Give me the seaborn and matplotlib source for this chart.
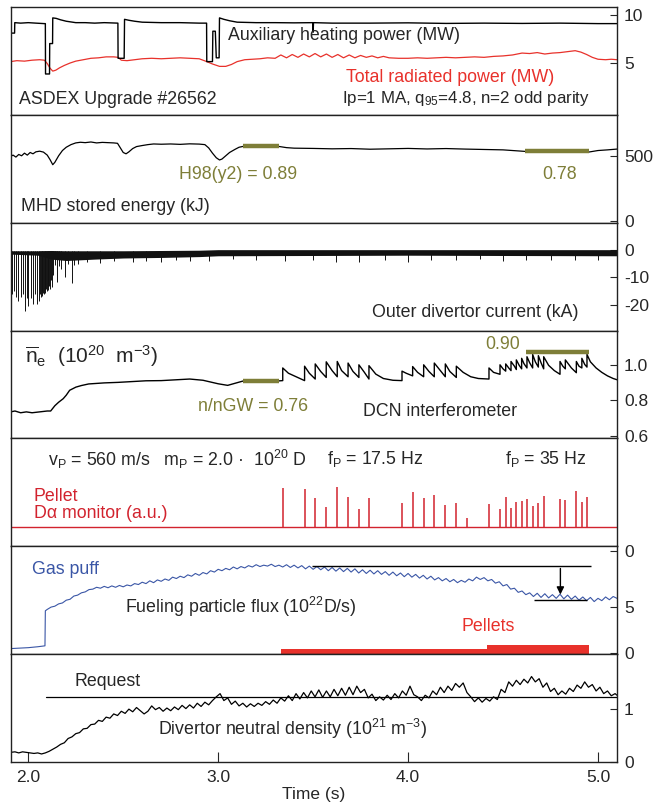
import matplotlib
matplotlib.use("Agg")
import matplotlib.pyplot as plt
import seaborn as sns
import numpy as np

# ---------------- data ----------------
# Panel 1: auxiliary heating power (MW)
heat_t = [1.907, 1.928, 1.929, 1.96, 2.00, 2.04, 2.084, 2.090, 2.091, 2.112, 2.113, 2.128, 2.129, 2.147,
          2.17, 2.20, 2.25, 2.30, 2.35, 2.40, 2.472, 2.473, 2.505, 2.507, 2.53, 2.56, 2.60, 2.70, 2.80,
          2.90, 2.939, 2.94, 2.97, 2.972, 2.985, 2.99, 3.005, 3.007, 3.03, 3.06, 3.10, 3.20, 3.30, 3.40,
          3.498, 3.50, 3.502, 3.60, 3.80, 4.00, 4.20, 4.40, 4.60, 4.80, 5.00, 5.10]
heat_v = [8.1, 8.1, 9.2, 9.15, 9.2, 9.15, 9.1, 9.1, 3.8, 3.8, 7.0, 7.0, 9.7, 9.65,
          9.5, 9.35, 9.2, 9.2, 9.15, 9.2, 9.15, 5.45, 5.45, 9.55, 9.45, 9.35, 9.25, 9.2, 9.2,
          9.15, 9.15, 5.1, 5.1, 8.3, 8.3, 5.5, 5.5, 9.7, 9.55, 9.4, 9.25, 9.2, 9.2, 9.18,
          9.2, 8.2, 9.2, 9.15, 9.15, 9.18, 9.12, 9.15, 9.12, 9.15, 9.1, 9.1]
# total radiated power (MW)
rad_t = [1.907, 1.94, 1.98, 2.02, 2.06, 2.085, 2.10, 2.115, 2.129, 2.145, 2.165, 2.19, 2.22, 2.25, 2.29,
         2.33, 2.37, 2.41, 2.45, 2.473, 2.49, 2.52, 2.56, 2.60, 2.65, 2.70, 2.75, 2.80, 2.85, 2.90, 2.94,
         2.97, 3.007, 3.04, 3.07, 3.10, 3.14, 3.18, 3.22, 3.26, 3.30, 3.33, 3.36, 3.39, 3.42, 3.45, 3.48,
         3.51, 3.54, 3.57, 3.60, 3.63, 3.66, 3.69, 3.72, 3.75, 3.78, 3.81, 3.84, 3.87, 3.90, 3.95, 4.00,
         4.05, 4.10, 4.15, 4.20, 4.25, 4.30, 4.35, 4.40, 4.45, 4.50, 4.55, 4.60, 4.64, 4.68, 4.72, 4.76,
         4.80, 4.84, 4.88, 4.91, 4.94, 4.97, 5.00, 5.04, 5.07, 5.10]
rad_v = [5.1, 5.2, 5.15, 5.25, 5.3, 5.25, 4.9, 4.4, 4.1, 4.2, 4.45, 4.7, 4.95, 5.15, 5.3,
         5.45, 5.5, 5.6, 5.6, 5.55, 5.25, 5.2, 5.3, 5.4, 5.45, 5.4, 5.45, 5.5, 5.45, 5.4, 5.1,
         4.85, 4.6, 4.6, 4.8, 5.1, 5.3, 5.35, 5.4, 5.5, 5.45, 5.8, 5.5, 5.85, 5.55, 5.9, 5.6,
         5.95, 5.6, 5.9, 5.55, 5.85, 5.5, 5.8, 5.5, 5.75, 5.55, 5.7, 5.5, 5.65, 5.5, 5.45, 5.45,
         5.5, 5.45, 5.5, 5.55, 5.5, 5.55, 5.6, 5.55, 5.65, 5.7, 5.8, 6.0, 5.95, 6.05, 5.9, 6.0,
         6.05, 6.15, 6.25, 6.1, 5.85, 5.55, 5.35, 5.3, 5.35, 5.3]

# Panel 2: MHD stored energy (kJ)
wmhd_t = [1.907, 1.92, 1.935, 1.95, 1.965, 1.98, 1.995, 2.01, 2.025, 2.04, 2.06, 2.08, 2.10, 2.115, 2.129,
          2.14, 2.16, 2.18, 2.20, 2.225, 2.25, 2.275, 2.30, 2.33, 2.36, 2.39, 2.42, 2.45, 2.47, 2.485,
          2.50, 2.515, 2.53, 2.55, 2.57, 2.60, 2.63, 2.66, 2.70, 2.75, 2.80, 2.85, 2.90, 2.93, 2.95,
          2.97, 2.99, 3.007, 3.02, 3.04, 3.06, 3.09, 3.11, 3.13, 3.20, 3.26, 3.32, 3.36, 3.40, 3.50,
          3.60, 3.70, 3.80, 3.90, 4.00, 4.10, 4.20, 4.30, 4.40, 4.50, 4.55, 4.60, 4.62, 4.70, 4.80,
          4.90, 4.95, 5.00, 5.05, 5.10]
wmhd_v = [495, 505, 490, 510, 500, 520, 505, 525, 515, 530, 535, 528, 505, 470, 432,
          450, 500, 540, 565, 585, 598, 603, 600, 605, 598, 602, 600, 598, 595, 560,
          525, 515, 530, 555, 570, 578, 585, 590, 588, 590, 587, 591, 589, 585, 560,
          520, 485, 468, 475, 500, 525, 550, 565, 571, 572, 570, 571, 562, 558, 556,
          553, 555, 550, 553, 556, 552, 555, 551, 548, 545, 540, 535, 533, 532, 531,
          530, 528, 540, 545, 551]
h98_t = [[3.129, 3.318], [4.618, 4.951]]
h98_v = [571, 533]

# Panel 3: outer divertor current (kA) - noise band envelope and spikes
band_t = [1.907, 2.05, 2.12, 2.20, 2.35, 2.50, 2.70, 2.90, 3.00, 3.50, 4.00, 4.50, 5.10]
band_hi = [-0.4, -0.4, -0.3, -0.4, -0.4, -0.4, -0.3, -0.2, 0.0, 0.0, 0.0, 0.0, 0.0]
band_lo = [-1.6, -2.0, -3.4, -3.9, -3.4, -3.0, -2.8, -2.5, -2.2, -2.1, -2.0, -2.1, -2.2]
elm_t = [1.912, 1.925, 1.935, 1.947, 1.960, 1.970, 1.983, 1.991, 2.000, 2.012, 2.023, 2.035, 2.047,
         2.058, 2.062, 2.066, 2.070, 2.074, 2.078, 2.082, 2.086, 2.090, 2.094, 2.098, 2.102, 2.106,
         2.110, 2.114, 2.118, 2.123, 2.130, 2.141, 2.149, 2.160, 2.175, 2.193, 2.210, 2.228, 2.240,
         2.26, 2.31, 2.38, 2.45, 2.55, 2.62, 2.70, 2.78, 2.85, 2.95, 3.08, 3.20, 3.35, 3.50, 3.62,
         3.74, 3.88, 4.00, 4.12, 4.25, 4.38, 4.50, 4.62, 4.75, 4.88, 5.00]
elm_v = [-16, -15, -17, -18.6, -17, -16, -21.9, -17.5, -20.1, -17.5, -19.5, -16, -19.5,
         -18.6, -16, -17, -15, -16.5, -15.5, -16, -14.5, -15.5, -14, -15, -13.5, -14.5,
         -13, -14, -11, -13.5, -9, -5.4, -11.5, -6, -7, -9.7, -5, -12.1, -5.5,
         -5, -4.5, -4.8, -4.2, -4.5, -4, -4.3, -3.8, -4, -4.2, -3.5, -3.8, -4, -3.6, -4.5,
         -4.3, -3.7, -4.3, -3.6, -3.9, -3.5, -4, -3.6, -3.8, -3.7, -3.9]

# Panel 4: line-averaged density (1e20 m^-3)
dens_t = [1.907, 1.93, 1.96, 1.99, 2.02, 2.06, 2.10, 2.118, 2.14, 2.16, 2.184, 2.20, 2.218, 2.251, 2.28,
          2.318, 2.40, 2.473, 2.55, 2.62, 2.70, 2.78, 2.85, 2.92, 2.96, 3.00, 3.05, 3.09, 3.129, 3.20,
          3.30, 3.340,
          3.340, 3.37, 3.41, 3.455, 3.455, 3.48, 3.511, 3.511, 3.54, 3.569, 3.569, 3.60, 3.627, 3.627,
          3.65, 3.684, 3.684, 3.71, 3.741, 3.741, 3.77, 3.794, 3.794, 3.83, 3.87, 3.92, 3.968,
          3.968, 3.99, 4.024, 4.024, 4.05, 4.082, 4.082, 4.11, 4.138, 4.138, 4.17, 4.196, 4.196,
          4.22, 4.254, 4.254, 4.29, 4.33, 4.37, 4.426,
          4.426, 4.45, 4.484, 4.484, 4.50, 4.514, 4.514, 4.53, 4.542, 4.542, 4.56, 4.570, 4.570,
          4.585, 4.598, 4.598, 4.61, 4.626, 4.626, 4.64, 4.656, 4.656, 4.67, 4.686, 4.686, 4.70,
          4.714, 4.714, 4.74, 4.77, 4.800, 4.800, 4.815, 4.828, 4.828, 4.86, 4.886, 4.886, 4.90,
          4.915, 4.915, 4.93, 4.942, 4.942, 4.96, 4.99, 5.02, 5.05, 5.08, 5.10]
dens_v = [0.735, 0.74, 0.73, 0.735, 0.73, 0.735, 0.74, 0.74, 0.77, 0.79, 0.81, 0.83, 0.858, 0.876, 0.885,
          0.894, 0.90, 0.903, 0.908, 0.912, 0.913, 0.918, 0.922, 0.915, 0.905, 0.895, 0.886, 0.898, 0.91,
          0.912, 0.91, 0.913,
          0.985, 0.955, 0.935, 0.913, 0.995, 0.955, 0.922, 1.008, 0.965, 0.931, 1.02, 0.97, 0.935, 1.022,
          0.97, 0.935, 1.013, 0.965, 0.931, 1.003, 0.96, 0.922, 0.998, 0.95, 0.925, 0.915, 0.913,
          0.967, 0.955, 0.94, 0.993, 0.96, 0.935, 1.003, 0.965, 0.935, 1.013, 0.97, 0.935, 1.008,
          0.965, 0.931, 0.995, 0.96, 0.935, 0.925, 0.922,
          0.985, 0.96, 0.949, 1.003, 0.98, 0.967, 1.008, 0.985, 0.97, 1.022, 0.995, 0.976, 1.031,
          1.0, 0.98, 1.04, 1.01, 0.985, 1.049, 1.015, 0.985, 1.062, 1.02, 0.99, 1.055, 1.015,
          0.98, 1.049, 1.0, 0.97, 0.949, 1.022, 0.995, 0.98, 1.031, 0.985, 0.958, 1.022, 0.995,
          0.985, 1.04, 1.005, 0.99, 1.062, 1.02, 0.985, 0.96, 0.94, 0.925, 0.918]
ngw_t = [[3.129, 3.318], [4.621, 4.955]]
ngw_v = [0.91, 1.076]

# Panel 5: pellet D-alpha spikes (a.u.)
pel_t = [3.340, 3.455, 3.511, 3.569, 3.627, 3.684, 3.741, 3.794, 3.968, 4.024, 4.082, 4.138, 4.196,
         4.254, 4.312, 4.426, 4.484, 4.514, 4.542, 4.570, 4.598, 4.626, 4.656, 4.686, 4.714, 4.800,
         4.828, 4.886, 4.915, 4.942]
pel_h = [0.393, 0.377, 0.287, 0.203, 0.397, 0.303, 0.177, 0.287, 0.237, 0.347, 0.287, 0.32, 0.217,
         0.237, 0.093, 0.227, 0.177, 0.303, 0.193, 0.25, 0.257, 0.283, 0.21, 0.237, 0.31, 0.283,
         0.267, 0.357, 0.247, 0.303]
base_t = [1.907, 5.10]
base_v = [0.0, 0.0]

# Panel 6: fueling particle flux (1e22 D/s)
gas_t = [1.907, 1.95, 2.00, 2.05, 2.088, 2.090,
         2.10, 2.12, 2.14, 2.16, 2.18, 2.20, 2.22, 2.24, 2.26, 2.28, 2.30, 2.32, 2.34, 2.36, 2.38,
         2.40, 2.42, 2.44, 2.46, 2.48, 2.50, 2.52, 2.54, 2.56, 2.58, 2.60, 2.62, 2.64, 2.66, 2.68,
         2.70, 2.72, 2.74, 2.76, 2.78, 2.80, 2.82, 2.84, 2.86, 2.88, 2.90, 2.92, 2.94, 2.96, 2.98,
         3.00, 3.02, 3.04, 3.06, 3.08, 3.10, 3.12, 3.14, 3.16, 3.18, 3.20, 3.22, 3.24, 3.26, 3.28,
         3.30, 3.32, 3.34, 3.36, 3.38, 3.40, 3.42, 3.44, 3.46, 3.48, 3.50, 3.52, 3.54, 3.56, 3.58,
         3.60, 3.62, 3.64, 3.66, 3.68, 3.70, 3.72, 3.74, 3.76, 3.78, 3.80, 3.82, 3.84, 3.86, 3.88,
         3.90, 3.92, 3.94, 3.96, 3.98, 4.00, 4.02, 4.04, 4.06, 4.08, 4.10, 4.12, 4.14, 4.16, 4.18,
         4.20, 4.22, 4.24, 4.26, 4.28, 4.30, 4.32, 4.34, 4.36, 4.38, 4.40, 4.42, 4.44, 4.46, 4.48,
         4.50, 4.52, 4.54, 4.56, 4.58, 4.60, 4.62, 4.64, 4.66, 4.68, 4.70, 4.72, 4.74, 4.76, 4.78,
         4.80, 4.82, 4.84, 4.86, 4.88, 4.90, 4.92, 4.94, 4.96, 4.98, 5.00, 5.02, 5.04, 5.06, 5.08, 5.10]
gas_v = [0.5, 0.55, 0.6, 0.7, 0.8, 4.6,
         4.75, 5.00, 5.10, 5.35, 5.45, 5.75, 5.85, 6.20, 6.30, 6.55, 6.65, 6.90, 6.95, 7.15, 7.05,
         7.25, 7.10, 7.30, 7.15, 7.35, 7.20, 7.40, 7.30, 7.55, 7.45, 7.70, 7.55, 7.85, 7.65, 7.95,
         7.80, 8.05, 7.90, 8.25, 8.10, 8.35, 8.20, 8.50, 8.35, 8.65, 8.45, 8.75, 8.60, 8.95, 8.80,
         9.10, 8.95, 9.20, 9.05, 9.35, 9.15, 9.40, 9.25, 9.50, 9.35, 9.60, 9.40, 9.55, 9.45, 9.65,
         9.40, 9.55, 9.35, 9.60, 9.30, 9.55, 9.25, 9.50, 9.15, 9.45, 9.10, 9.40, 9.05, 9.35, 8.95,
         9.30, 8.90, 9.25, 8.85, 9.20, 8.80, 9.15, 8.70, 9.05, 8.65, 9.00, 8.60, 8.95, 8.55, 8.85,
         8.45, 8.80, 8.40, 8.70, 8.30, 8.65, 8.25, 8.55, 8.15, 8.45, 8.05, 8.35, 7.95, 8.20, 7.85,
         8.10, 7.75, 8.00, 7.65, 7.90, 7.70, 8.05, 7.85, 8.25, 8.00, 8.20, 7.85, 8.00, 7.60, 7.75,
         7.30, 7.45, 6.95, 7.05, 6.60, 6.75, 6.35, 6.55, 6.15, 6.50, 6.05, 6.45, 6.00, 6.35, 5.95,
         6.40, 5.90, 6.30, 5.85, 6.20, 5.75, 6.10, 5.70, 6.05, 5.60, 5.95, 5.70, 6.10, 5.80, 6.15, 5.95]
ref_hi = [3.496, 4.962, 9.49]     # x0, x1, level
ref_lo = [4.662, 4.940, 5.76]
arrow_x = 4.802
pellet_bar_t = [3.329, 4.418]
pellet_bar_w = [1.089, 0.533]
pellet_bar_h = [0.53, 1.0]

# Panel 7: divertor neutral density (1e21 m^-3)
neut_t = [1.907, 1.93, 1.95, 1.97, 1.99, 2.01, 2.03, 2.05, 2.07, 2.09, 2.11, 2.13, 2.15, 2.17, 2.19,
          2.21, 2.23, 2.25, 2.27, 2.29, 2.31, 2.33, 2.35, 2.37, 2.39, 2.41, 2.43, 2.45, 2.47, 2.49,
          2.51, 2.53, 2.55, 2.57, 2.59, 2.61, 2.63, 2.65, 2.67, 2.69, 2.71, 2.73, 2.75, 2.77, 2.79,
          2.81, 2.83, 2.85, 2.87, 2.89, 2.91, 2.93, 2.95, 2.97, 2.99, 3.01, 3.03, 3.05, 3.07, 3.09,
          3.11, 3.13, 3.15, 3.17, 3.19, 3.21, 3.23, 3.25, 3.27, 3.29, 3.31, 3.33, 3.35, 3.37, 3.39,
          3.41, 3.43, 3.45, 3.47, 3.49, 3.51, 3.53, 3.55, 3.57, 3.59, 3.61, 3.63, 3.65, 3.67, 3.69,
          3.71, 3.73, 3.75, 3.77, 3.79, 3.81, 3.83, 3.85, 3.87, 3.89, 3.91, 3.93, 3.95, 3.97, 3.99,
          4.01, 4.03, 4.05, 4.07, 4.09, 4.11, 4.13, 4.15, 4.17, 4.19, 4.21, 4.23, 4.25, 4.27, 4.29,
          4.31, 4.33, 4.35, 4.37, 4.39, 4.41, 4.43, 4.45, 4.47, 4.49, 4.51, 4.53, 4.55, 4.57, 4.59,
          4.61, 4.63, 4.65, 4.67, 4.69, 4.71, 4.73, 4.75, 4.77, 4.79, 4.81, 4.83, 4.85, 4.87, 4.89,
          4.91, 4.93, 4.95, 4.97, 4.99, 5.01, 5.03, 5.05, 5.07, 5.09, 5.10]
neut_v = [0.18, 0.19, 0.17, 0.19, 0.18, 0.17, 0.16, 0.17, 0.15, 0.17, 0.20, 0.24, 0.28, 0.33, 0.36,
          0.44, 0.47, 0.53, 0.55, 0.62, 0.63, 0.70, 0.71, 0.78, 0.76, 0.84, 0.82, 0.90, 0.87, 0.95,
          0.91, 0.99, 0.94, 1.02, 0.96, 0.90, 0.95, 1.05, 0.98, 1.02, 0.95, 1.01, 0.96, 1.03, 0.98,
          1.06, 1.00, 1.07, 1.01, 1.10, 1.04, 1.12, 1.07, 1.15, 1.22, 1.28, 1.15, 1.20, 1.08, 1.14,
          1.05, 1.10, 1.03, 1.09, 1.04, 1.10, 1.06, 1.13, 1.08, 1.16, 1.10, 1.20, 1.14, 1.24, 1.15,
          1.28, 1.18, 1.30, 1.20, 1.33, 1.22, 1.35, 1.21, 1.33, 1.22, 1.36, 1.24, 1.38, 1.25, 1.40,
          1.26, 1.42, 1.30, 1.36, 1.20, 1.27, 1.15, 1.22, 1.16, 1.25, 1.17, 1.28, 1.20, 1.33, 1.25,
          1.42, 1.26, 1.22, 1.15, 1.25, 1.20, 1.33, 1.26, 1.40, 1.30, 1.42, 1.34, 1.47, 1.40, 1.48,
          1.30, 1.22, 1.13, 1.20, 1.12, 1.19, 1.14, 1.22, 1.17, 1.36, 1.30, 1.50, 1.42, 1.53, 1.45,
          1.55, 1.48, 1.60, 1.50, 1.56, 1.40, 1.48, 1.32, 1.38, 1.26, 1.33, 1.27, 1.38, 1.32, 1.44,
          1.38, 1.50, 1.40, 1.45, 1.33, 1.40, 1.28, 1.33, 1.24, 1.28, 1.25]
request_t = [2.091, 5.10]
request_v = [1.21, 1.21]

xticks = [2.0, 3.0, 4.0, 5.0]
xtick_labels = ["2.0", "3.0", "4.0", "5.0"]

# ---------------- styling ----------------
sns.set_style("ticks")
plt.rcParams["font.family"] = ["Liberation Sans", "DejaVu Sans"]
plt.rcParams["mathtext.fontset"] = "custom"
plt.rcParams["mathtext.rm"] = "Liberation Sans"
plt.rcParams["mathtext.it"] = "Liberation Sans"
plt.rcParams["mathtext.bf"] = "Liberation Sans:bold"
plt.rcParams["axes.unicode_minus"] = False

RED = "#e8312b"
DRED = "#d2232e"
BLUE = "#3a56a6"
OLIVE = "#7e7e38"
FS = 12.8
TFS = 12.5

fig, axes = plt.subplots(7, 1, figsize=(6.62, 8.02), dpi=100, sharex=True,
                         gridspec_kw=dict(hspace=0))
fig.subplots_adjust(left=0.016, right=0.932, top=0.9913, bottom=0.0499)

ylims = [(-0.5, 10.85), (-10, 812), (-29.1, 9.7), (0.584, 1.198), (-0.193, 0.887), (-0.1, 11.6), (0.0, 2.02)]
for ax, yl in zip(axes, ylims):
    ax.set_xlim(1.907, 5.10)
    ax.set_ylim(*yl)
    ax.yaxis.tick_right()
    ax.tick_params(axis="y", direction="in", length=5, width=0.8, labelsize=TFS, pad=5,
                   left=False, right=True)
    ax.tick_params(axis="x", bottom=False, top=False)
    for s in ax.spines.values():
        s.set_visible(True)
        s.set_linewidth(1.0)
        s.set_color("#222222")

def trace(ax, x, y, color="black", lw=0.8):
    sns.lineplot(x=x, y=y, ax=ax, color=color, lw=lw, estimator=None, sort=False, legend=False)

# Panel 1
ax = axes[0]
trace(ax, rad_t, rad_v, RED, 0.9)
trace(ax, heat_t, heat_v, "black", 1.0)
ax.set_yticks([5, 10])
ax.text(3.051, 7.8, "Auxiliary heating power (MW)", fontsize=FS, va="center")
ax.text(3.672, 3.39, "Total radiated power (MW)", fontsize=FS, va="center", color=RED)
ax.text(1.951, 1.08, "ASDEX Upgrade #26562", fontsize=FS, va="center")
ax.text(3.652, 1.18, r"Ip=1 MA, q$_{95}$=4.8, n=2 odd parity", fontsize=FS - 0.6, va="center")

# Panel 2
ax = axes[1]
trace(ax, wmhd_t, wmhd_v, "black", 0.9)
for (x0, x1), v in zip(h98_t, h98_v):
    ax.plot([x0, x1], [v, v], color=OLIVE, lw=3.2, solid_capstyle="butt")
ax.set_yticks([0, 500])
ax.text(2.794, 355, "H98(y2) = 0.89", fontsize=FS, va="center", color=OLIVE)
ax.text(4.705, 355, "0.78", fontsize=FS, va="center", color=OLIVE)
ax.text(1.962, 112, "MHD stored energy (kJ)", fontsize=FS, va="center")

# Panel 3
ax = axes[2]
ax.fill_between(band_t, band_hi, band_lo, color="#111111", lw=0)
ax.vlines(elm_t, -0.5, elm_v, color="#111111", lw=0.7)
ax.set_yticks([-20, -10, 0])
ax.text(3.81, -22.7, "Outer divertor current (kA)", fontsize=FS, va="center")

# Panel 4
ax = axes[3]
trace(ax, dens_t, dens_v, "black", 1.0)
for (x0, x1), v in zip(ngw_t, ngw_v):
    ax.plot([x0, x1], [v, v], color=OLIVE, lw=3.2, solid_capstyle="butt")
ax.set_yticks([0.6, 0.8, 1.0])
ax.set_yticklabels(["0.6", "0.8", "1.0"])
ax.text(1.983, 1.05, r"$\overline{\mathrm{n}}_\mathrm{e}$  (10$^{20}$  m$^{-3}$)", fontsize=15, va="center")
ax.text(2.894, 0.767, "n/nGW = 0.76", fontsize=FS, va="center", color=OLIVE)
ax.text(3.762, 0.735, "DCN interferometer", fontsize=FS, va="center")
ax.text(4.405, 1.12, "0.90", fontsize=FS, va="center", color=OLIVE)

# Panel 5
ax = axes[4]
trace(ax, base_t, base_v, DRED, 1.0)
ax.vlines(pel_t, 0, pel_h, color=DRED, lw=1.1)
ax.set_yticks([])
ax.text(2.104, 0.677, r"v$_\mathrm{P}$ = 560 m/s   m$_\mathrm{P}$ = 2.0 ·  10$^{20}$ D", fontsize=FS, va="center")
ax.text(3.573, 0.677, r"f$_\mathrm{P}$ = 17.5 Hz", fontsize=FS, va="center")
ax.text(4.510, 0.677, r"f$_\mathrm{P}$ = 35 Hz", fontsize=FS, va="center")
ax.text(2.03, 0.307, "Pellet", fontsize=FS, va="center", color=DRED)
ax.text(2.03, 0.137, "D\u03b1 monitor (a.u.)", fontsize=FS, va="center", color=DRED)

# Panel 6
ax = axes[5]
ax.bar(pellet_bar_t, pellet_bar_h, width=pellet_bar_w, bottom=-0.1, align="edge", color=RED, lw=0)
trace(ax, gas_t, gas_v, BLUE, 0.8)
ax.hlines(ref_hi[2], ref_hi[0], ref_hi[1], color="black", lw=1.0)
ax.hlines(ref_lo[2], ref_lo[0], ref_lo[1], color="black", lw=1.0)
ax.annotate("", xy=(arrow_x, ref_lo[2] + 0.3), xytext=(arrow_x, ref_hi[2]),
            arrowprops=dict(arrowstyle="-|>", color="black", lw=1.0, mutation_scale=11))
ax.set_yticks([0, 5, 11.08])
ax.set_yticklabels(["0", "5", "0"])
ax.text(2.02, 9.13, "Gas puff", fontsize=FS, va="center", color=BLUE)
ax.text(2.51, 5.0, r"Fueling particle flux (10$^{22}$D/s)", fontsize=FS, va="center")
ax.text(4.283, 2.93, "Pellets", fontsize=FS, va="center", color=RED)

# Panel 7
ax = axes[6]
trace(ax, request_t, request_v, "black", 0.9)
trace(ax, neut_t, neut_v, "black", 0.9)
ax.set_yticks([0, 1])
ax.text(2.241, 1.50, "Request", fontsize=FS, va="center")
ax.text(2.683, 0.61, r"Divertor neutral density (10$^{21}$ m$^{-3}$)", fontsize=FS, va="center")
ax.set_xticks(xticks)
ax.set_xticklabels(xtick_labels)
ax.tick_params(axis="x", bottom=True, direction="in", length=7, width=0.8, labelsize=TFS, pad=6)
ax.set_xlabel("Time (s)", fontsize=TFS, labelpad=1)

for a in axes:
    a.set_ylabel("")
    if a is not axes[6]:
        a.set_xlabel("")

fig.savefig("out.png", dpi=100)
